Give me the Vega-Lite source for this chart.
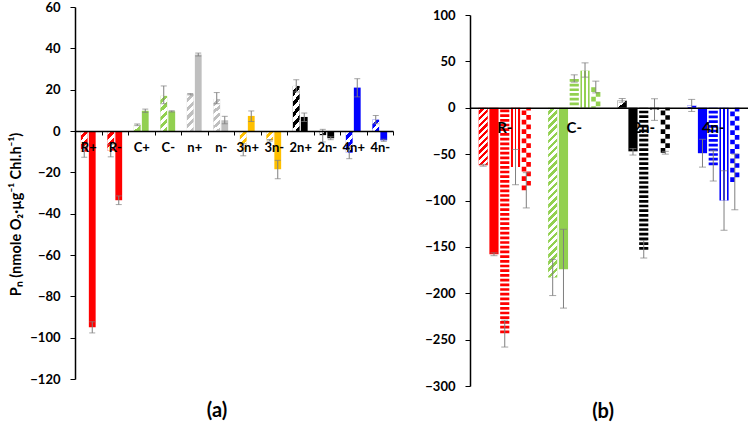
{
  "$schema": "https://vega.github.io/schema/vega-lite/v6.json",
  "background": "white",
  "padding": {"left": 8, "top": 1, "right": 0, "bottom": 0},
  "config": {
    "view": {"stroke": null},
    "font": "Lato",
    "axis": {"labelFont": "Lato", "labelFontWeight": "bold", "labelColor": "#000", "titleFont": "Lato", "titleFontWeight": "bold", "titleColor": "#000", "domainColor": "#000", "tickColor": "#000", "grid": false},
    "title": {"font": "Lato", "fontWeight": "bold", "color": "#000"}
  },
  "datasets": {
    "a": [
      {"g": "R+", "c": "R", "p": "h", "v": -10, "lo": -12.7, "hi": -7.3},
      {"g": "R+", "c": "R", "p": "s", "v": -95, "lo": -97.7, "hi": -92.3},
      {"g": "R-", "c": "R", "p": "h", "v": -9.5, "lo": -12.5, "hi": -6.5},
      {"g": "R-", "c": "R", "p": "s", "v": -33.5, "lo": -35.6, "hi": -31.4},
      {"g": "C+", "c": "C", "p": "h", "v": 3, "lo": 2.6, "hi": 3.4},
      {"g": "C+", "c": "C", "p": "s", "v": 9.8, "lo": 9.0, "hi": 10.6},
      {"g": "C-", "c": "C", "p": "h", "v": 17, "lo": 13.2, "hi": 21.8},
      {"g": "C-", "c": "C", "p": "s", "v": 9.5, "lo": 9.2, "hi": 9.8},
      {"g": "n+", "c": "n", "p": "h", "v": 17.8, "lo": 17.5, "hi": 18.1},
      {"g": "n+", "c": "n", "p": "s", "v": 37, "lo": 36.3, "hi": 37.7},
      {"g": "n-", "c": "n", "p": "h", "v": 15.5, "lo": 13.2, "hi": 18.6},
      {"g": "n-", "c": "n", "p": "s", "v": 5.2, "lo": 3.5, "hi": 7.1},
      {"g": "3n+", "c": "3n", "p": "h", "v": -9, "lo": -12, "hi": -6.2},
      {"g": "3n+", "c": "3n", "p": "s", "v": 7.3, "lo": 4.6, "hi": 9.7},
      {"g": "3n-", "c": "3n", "p": "h", "v": -4.5, "lo": -4.9, "hi": -4.1},
      {"g": "3n-", "c": "3n", "p": "s", "v": -18.5, "lo": -23.1, "hi": -14.2},
      {"g": "2n+", "c": "2n", "p": "h", "v": 21.8, "lo": 18.9, "hi": 24.8},
      {"g": "2n+", "c": "2n", "p": "s", "v": 6.8, "lo": 4.6, "hi": 8.7},
      {"g": "2n-", "c": "2n", "p": "h", "v": -2, "lo": -5.3, "hi": 0.8},
      {"g": "2n-", "c": "2n", "p": "s", "v": -3.5, "lo": -4.2, "hi": -2.8},
      {"g": "4n+", "c": "4n", "p": "h", "v": -10.5, "lo": -13.4, "hi": -7.6},
      {"g": "4n+", "c": "4n", "p": "s", "v": 21, "lo": 16.5, "hi": 25.3},
      {"g": "4n-", "c": "4n", "p": "h", "v": 5.5, "lo": 3.5, "hi": 7.5},
      {"g": "4n-", "c": "4n", "p": "s", "v": -4.5, "lo": -5, "hi": -4}
    ],
    "b": [
      {"g": "R-", "c": "R", "p": "h", "v": -62, "lo": -63, "hi": -61},
      {"g": "R-", "c": "R", "p": "s", "v": -158, "lo": -159.5, "hi": -156.5},
      {"g": "R-", "c": "R", "p": "hs", "v": -243, "lo": -258, "hi": -229},
      {"g": "R-", "c": "R", "p": "vs", "v": -64, "lo": -83, "hi": -45},
      {"g": "R-", "c": "R", "p": "ck", "v": -89, "lo": -108, "hi": -70},
      {"g": "C-", "c": "C", "p": "h", "v": -183, "lo": -202.5, "hi": -163.5},
      {"g": "C-", "c": "C", "p": "s", "v": -174, "lo": -216, "hi": -131},
      {"g": "C-", "c": "C", "p": "hs", "v": 31, "lo": 27.6, "hi": 35.5},
      {"g": "C-", "c": "C", "p": "vs", "v": 40, "lo": 33, "hi": 48.4},
      {"g": "C-", "c": "C", "p": "ck", "v": 22, "lo": 16, "hi": 28.7},
      {"g": "2n-", "c": "2n", "p": "h", "v": 8, "lo": 6, "hi": 10},
      {"g": "2n-", "c": "2n", "p": "s", "v": -47, "lo": -51, "hi": -44},
      {"g": "2n-", "c": "2n", "p": "hs", "v": -153, "lo": -162, "hi": -143},
      {"g": "2n-", "c": "2n", "p": "vs", "v": -2, "lo": -13.6, "hi": 9.7},
      {"g": "2n-", "c": "2n", "p": "ck", "v": -48.5, "lo": -50, "hi": -47},
      {"g": "4n-", "c": "4n", "p": "h", "v": 2.5, "lo": -4, "hi": 9},
      {"g": "4n-", "c": "4n", "p": "s", "v": -49, "lo": -64, "hi": -34},
      {"g": "4n-", "c": "4n", "p": "hs", "v": -62, "lo": -79, "hi": -46},
      {"g": "4n-", "c": "4n", "p": "vs", "v": -100, "lo": -132, "hi": -68},
      {"g": "4n-", "c": "4n", "p": "ck", "v": -80, "lo": -110, "hi": -50}
    ]
  },
  "resolve": {"scale": {"x": "independent", "y": "independent", "xOffset": "independent"}},
  "spacing": 30,
  "hconcat": [
    {
      "width": 318,
      "height": 372,
      "data": {"name": "a"},
      "title": {"text": "(a)", "orient": "bottom", "fontSize": 20, "frame": "group", "dx": -17, "offset": 15},
      "encoding": {
        "x": {"field": "g", "type": "nominal", "sort": ["R+", "R-", "C+", "C-", "n+", "n-", "3n+", "3n-", "2n+", "2n-", "4n+", "4n-"], "scale": {"paddingInner": 0, "paddingOuter": 0},
          "axis": {"title": null, "orient": "bottom", "offset": -248, "zindex": 1, "domainWidth": 1.5, "tickSize": 4, "tickWidth": 1, "tickBand": "extent", "labelAngle": 0, "labelFontSize": 13, "labelPadding": 6}},
        "xOffset": {"field": "p", "type": "nominal", "sort": ["h", "s"], "scale": {"domain": ["h", "s"], "paddingInner": 0.15, "paddingOuter": 0.73}},
        "y": {"field": "v", "type": "quantitative", "scale": {"domain": [-120, 60], "nice": false},
          "axis": {"title": "Pₙ (nmole O₂·µg⁻¹ Chl.h⁻¹)", "values": [-120, -100, -80, -60, -40, -20, 0, 20, 40, 60], "domainWidth": 1.5, "tickSize": 5, "labelFontSize": 13, "labelPadding": 10, "titleFontSize": 14.5, "titlePadding": 6, "titleY": 207}}
      },
      "layer": [
        {"mark": {"type": "bar"}, "encoding": {"color": {"field": "c", "type": "nominal", "scale": {"domain": ["R", "C", "n", "3n", "2n", "4n"], "range": ["#FF0000", "#92D050", "#BFBFBF", "#FFC000", "#000000", "#0000FF"]}, "legend": null}}},
        {"transform": [{"filter": {"field": "p", "equal": "h"}}, {"filter": {"field": "g", "oneOf": ["C-", "n+", "n-", "2n+"]}}],
          "mark": {"type": "bar", "fill": {"gradient": "linear", "x1": 0, "y1": 0, "x2": 0.211, "y2": 1.145, "stops": [
            {"offset": 0, "color": "#ffffff"}, {"offset": 0.1, "color": "#ffffff"}, {"offset": 0.1, "color": "rgba(255,255,255,0)"}, {"offset": 0.2, "color": "rgba(255,255,255,0)"},
            {"offset": 0.2, "color": "#ffffff"}, {"offset": 0.3, "color": "#ffffff"}, {"offset": 0.3, "color": "rgba(255,255,255,0)"}, {"offset": 0.4, "color": "rgba(255,255,255,0)"},
            {"offset": 0.4, "color": "#ffffff"}, {"offset": 0.5, "color": "#ffffff"}, {"offset": 0.5, "color": "rgba(255,255,255,0)"}, {"offset": 0.6, "color": "rgba(255,255,255,0)"},
            {"offset": 0.6, "color": "#ffffff"}, {"offset": 0.7, "color": "#ffffff"}, {"offset": 0.7, "color": "rgba(255,255,255,0)"}, {"offset": 0.8, "color": "rgba(255,255,255,0)"},
            {"offset": 0.8, "color": "#ffffff"}, {"offset": 0.9, "color": "#ffffff"}, {"offset": 0.9, "color": "rgba(255,255,255,0)"}, {"offset": 1, "color": "rgba(255,255,255,0)"}]}}},
        {"transform": [{"filter": {"field": "p", "equal": "h"}}, {"filter": {"field": "g", "oneOf": ["R+", "R-", "3n+", "4n+"]}}],
          "mark": {"type": "bar", "fill": {"gradient": "linear", "x1": 0, "y1": 0, "x2": 0.408, "y2": 1.201, "stops": [
            {"offset": 0, "color": "#ffffff"}, {"offset": 0.1667, "color": "#ffffff"}, {"offset": 0.1667, "color": "rgba(255,255,255,0)"}, {"offset": 0.3333, "color": "rgba(255,255,255,0)"},
            {"offset": 0.3333, "color": "#ffffff"}, {"offset": 0.5, "color": "#ffffff"}, {"offset": 0.5, "color": "rgba(255,255,255,0)"}, {"offset": 0.6667, "color": "rgba(255,255,255,0)"},
            {"offset": 0.6667, "color": "#ffffff"}, {"offset": 0.8333, "color": "#ffffff"}, {"offset": 0.8333, "color": "rgba(255,255,255,0)"}, {"offset": 1, "color": "rgba(255,255,255,0)"}]}}},
        {"transform": [{"filter": {"field": "p", "equal": "h"}}, {"filter": {"field": "g", "oneOf": ["3n-", "4n-"]}}],
          "mark": {"type": "bar", "fill": {"gradient": "linear", "x1": 0, "y1": 0, "x2": 0.763, "y2": 1.156, "stops": [
            {"offset": 0, "color": "#ffffff"}, {"offset": 0.25, "color": "#ffffff"}, {"offset": 0.25, "color": "rgba(255,255,255,0)"}, {"offset": 0.5, "color": "rgba(255,255,255,0)"},
            {"offset": 0.5, "color": "#ffffff"}, {"offset": 0.75, "color": "#ffffff"}, {"offset": 0.75, "color": "rgba(255,255,255,0)"}, {"offset": 1, "color": "rgba(255,255,255,0)"}]}}},
        {"transform": [{"filter": {"field": "p", "equal": "h"}}, {"filter": {"field": "g", "oneOf": ["C+", "2n-"]}}],
          "mark": {"type": "bar", "fill": {"gradient": "linear", "x1": 0, "y1": 0, "x2": 1, "y2": 1, "stops": [
            {"offset": 0, "color": "#ffffff"}, {"offset": 0.5, "color": "#ffffff"}, {"offset": 0.5, "color": "rgba(255,255,255,0)"}, {"offset": 1, "color": "rgba(255,255,255,0)"}]}}},
        {"mark": {"type": "rule", "color": "#7F7F7F", "strokeWidth": 1}, "encoding": {"y": {"field": "lo", "type": "quantitative"}, "y2": {"field": "hi"}}},
        {"mark": {"type": "tick", "color": "#7F7F7F", "thickness": 1}, "encoding": {"y": {"field": "lo", "type": "quantitative"}, "size": {"value": 6}}},
        {"mark": {"type": "tick", "color": "#7F7F7F", "thickness": 1}, "encoding": {"y": {"field": "hi", "type": "quantitative"}, "size": {"value": 6}}}
      ]
    },
    {
      "vconcat": [
        {"width": 278, "height": 2, "data": {"values": []}, "mark": "point"},
        {
          "width": 278,
          "height": 371,
          "data": {"name": "b"},
          "title": {"text": "(b)", "orient": "bottom", "fontSize": 20, "frame": "group", "dx": -6, "offset": 9},
          "encoding": {
            "x": {"field": "g", "type": "nominal", "sort": ["R-", "C-", "2n-", "4n-"], "scale": {"paddingInner": 0, "paddingOuter": 0},
              "axis": {"title": null, "orient": "bottom", "offset": -278.25, "zindex": 1, "domainWidth": 1.5, "ticks": false, "labelAngle": 0, "labelFontSize": 15, "labelPadding": 13}},
            "y": {"field": "v", "type": "quantitative", "scale": {"domain": [-300, 100], "nice": false},
              "axis": {"title": null, "values": [-300, -250, -200, -150, -100, -50, 0, 50, 100], "domainWidth": 1.5, "tickSize": 5, "labelFontSize": 13, "labelPadding": 10}}
          },
          "layer": [
            {"transform": [{"filter": {"field": "p", "oneOf": ["h", "s", "vs"]}}],
              "mark": {"type": "bar"},
              "encoding": {"xOffset": {"field": "p", "type": "nominal", "scale": {"domain": ["h", "s", "hs", "vs", "ck"], "paddingInner": 0.15, "paddingOuter": 0.8}},
                "color": {"field": "c", "type": "nominal", "scale": {"domain": ["R", "C", "n", "3n", "2n", "4n"], "range": ["#FF0000", "#92D050", "#BFBFBF", "#FFC000", "#000000", "#0000FF"]}, "legend": null}}},
            {"transform": [{"filter": {"field": "p", "equal": "h"}}, {"filter": {"field": "g", "equal": "R-"}}],
              "mark": {"type": "bar", "fill": {"gradient": "linear", "x1": 0, "y1": 0, "x2": 0.18, "y2": 1.13, "stops": [
                {"offset": 0, "color": "#ffffff"}, {"offset": 0.05, "color": "#ffffff"}, {"offset": 0.05, "color": "rgba(255,255,255,0)"}, {"offset": 0.1, "color": "rgba(255,255,255,0)"},
                {"offset": 0.1, "color": "#ffffff"}, {"offset": 0.15, "color": "#ffffff"}, {"offset": 0.15, "color": "rgba(255,255,255,0)"}, {"offset": 0.2, "color": "rgba(255,255,255,0)"},
                {"offset": 0.2, "color": "#ffffff"}, {"offset": 0.25, "color": "#ffffff"}, {"offset": 0.25, "color": "rgba(255,255,255,0)"}, {"offset": 0.3, "color": "rgba(255,255,255,0)"},
                {"offset": 0.3, "color": "#ffffff"}, {"offset": 0.35, "color": "#ffffff"}, {"offset": 0.35, "color": "rgba(255,255,255,0)"}, {"offset": 0.4, "color": "rgba(255,255,255,0)"},
                {"offset": 0.4, "color": "#ffffff"}, {"offset": 0.45, "color": "#ffffff"}, {"offset": 0.45, "color": "rgba(255,255,255,0)"}, {"offset": 0.5, "color": "rgba(255,255,255,0)"},
                {"offset": 0.5, "color": "#ffffff"}, {"offset": 0.55, "color": "#ffffff"}, {"offset": 0.55, "color": "rgba(255,255,255,0)"}, {"offset": 0.6, "color": "rgba(255,255,255,0)"},
                {"offset": 0.6, "color": "#ffffff"}, {"offset": 0.65, "color": "#ffffff"}, {"offset": 0.65, "color": "rgba(255,255,255,0)"}, {"offset": 0.7, "color": "rgba(255,255,255,0)"},
                {"offset": 0.7, "color": "#ffffff"}, {"offset": 0.75, "color": "#ffffff"}, {"offset": 0.75, "color": "rgba(255,255,255,0)"}, {"offset": 0.8, "color": "rgba(255,255,255,0)"},
                {"offset": 0.8, "color": "#ffffff"}, {"offset": 0.85, "color": "#ffffff"}, {"offset": 0.85, "color": "rgba(255,255,255,0)"}, {"offset": 0.9, "color": "rgba(255,255,255,0)"},
                {"offset": 0.9, "color": "#ffffff"}, {"offset": 0.95, "color": "#ffffff"}, {"offset": 0.95, "color": "rgba(255,255,255,0)"}, {"offset": 1, "color": "rgba(255,255,255,0)"}]}},
              "encoding": {"xOffset": {"field": "p", "type": "nominal", "scale": {"domain": ["h", "s", "hs", "vs", "ck"], "paddingInner": 0.15, "paddingOuter": 0.8}}}},
            {"transform": [{"filter": {"field": "p", "equal": "h"}}, {"filter": {"field": "g", "equal": "C-"}}],
              "mark": {"type": "bar", "fill": {"gradient": "linear", "x1": 0, "y1": 0, "x2": 0.0566, "y2": 1.0508, "stops": [
                {"offset": 0, "color": "#ffffff"}, {"offset": 0.02, "color": "#ffffff"}, {"offset": 0.02, "color": "rgba(255,255,255,0)"}, {"offset": 0.04, "color": "rgba(255,255,255,0)"},
                {"offset": 0.04, "color": "#ffffff"}, {"offset": 0.06, "color": "#ffffff"}, {"offset": 0.06, "color": "rgba(255,255,255,0)"}, {"offset": 0.08, "color": "rgba(255,255,255,0)"},
                {"offset": 0.08, "color": "#ffffff"}, {"offset": 0.1, "color": "#ffffff"}, {"offset": 0.1, "color": "rgba(255,255,255,0)"}, {"offset": 0.12, "color": "rgba(255,255,255,0)"},
                {"offset": 0.12, "color": "#ffffff"}, {"offset": 0.14, "color": "#ffffff"}, {"offset": 0.14, "color": "rgba(255,255,255,0)"}, {"offset": 0.16, "color": "rgba(255,255,255,0)"},
                {"offset": 0.16, "color": "#ffffff"}, {"offset": 0.18, "color": "#ffffff"}, {"offset": 0.18, "color": "rgba(255,255,255,0)"}, {"offset": 0.2, "color": "rgba(255,255,255,0)"},
                {"offset": 0.2, "color": "#ffffff"}, {"offset": 0.22, "color": "#ffffff"}, {"offset": 0.22, "color": "rgba(255,255,255,0)"}, {"offset": 0.24, "color": "rgba(255,255,255,0)"},
                {"offset": 0.24, "color": "#ffffff"}, {"offset": 0.26, "color": "#ffffff"}, {"offset": 0.26, "color": "rgba(255,255,255,0)"}, {"offset": 0.28, "color": "rgba(255,255,255,0)"},
                {"offset": 0.28, "color": "#ffffff"}, {"offset": 0.3, "color": "#ffffff"}, {"offset": 0.3, "color": "rgba(255,255,255,0)"}, {"offset": 0.32, "color": "rgba(255,255,255,0)"},
                {"offset": 0.32, "color": "#ffffff"}, {"offset": 0.34, "color": "#ffffff"}, {"offset": 0.34, "color": "rgba(255,255,255,0)"}, {"offset": 0.36, "color": "rgba(255,255,255,0)"},
                {"offset": 0.36, "color": "#ffffff"}, {"offset": 0.38, "color": "#ffffff"}, {"offset": 0.38, "color": "rgba(255,255,255,0)"}, {"offset": 0.4, "color": "rgba(255,255,255,0)"},
                {"offset": 0.4, "color": "#ffffff"}, {"offset": 0.42, "color": "#ffffff"}, {"offset": 0.42, "color": "rgba(255,255,255,0)"}, {"offset": 0.44, "color": "rgba(255,255,255,0)"},
                {"offset": 0.44, "color": "#ffffff"}, {"offset": 0.46, "color": "#ffffff"}, {"offset": 0.46, "color": "rgba(255,255,255,0)"}, {"offset": 0.48, "color": "rgba(255,255,255,0)"},
                {"offset": 0.48, "color": "#ffffff"}, {"offset": 0.5, "color": "#ffffff"}, {"offset": 0.5, "color": "rgba(255,255,255,0)"}, {"offset": 0.52, "color": "rgba(255,255,255,0)"},
                {"offset": 0.52, "color": "#ffffff"}, {"offset": 0.54, "color": "#ffffff"}, {"offset": 0.54, "color": "rgba(255,255,255,0)"}, {"offset": 0.56, "color": "rgba(255,255,255,0)"},
                {"offset": 0.56, "color": "#ffffff"}, {"offset": 0.58, "color": "#ffffff"}, {"offset": 0.58, "color": "rgba(255,255,255,0)"}, {"offset": 0.6, "color": "rgba(255,255,255,0)"},
                {"offset": 0.6, "color": "#ffffff"}, {"offset": 0.62, "color": "#ffffff"}, {"offset": 0.62, "color": "rgba(255,255,255,0)"}, {"offset": 0.64, "color": "rgba(255,255,255,0)"},
                {"offset": 0.64, "color": "#ffffff"}, {"offset": 0.66, "color": "#ffffff"}, {"offset": 0.66, "color": "rgba(255,255,255,0)"}, {"offset": 0.68, "color": "rgba(255,255,255,0)"},
                {"offset": 0.68, "color": "#ffffff"}, {"offset": 0.7, "color": "#ffffff"}, {"offset": 0.7, "color": "rgba(255,255,255,0)"}, {"offset": 0.72, "color": "rgba(255,255,255,0)"},
                {"offset": 0.72, "color": "#ffffff"}, {"offset": 0.74, "color": "#ffffff"}, {"offset": 0.74, "color": "rgba(255,255,255,0)"}, {"offset": 0.76, "color": "rgba(255,255,255,0)"},
                {"offset": 0.76, "color": "#ffffff"}, {"offset": 0.78, "color": "#ffffff"}, {"offset": 0.78, "color": "rgba(255,255,255,0)"}, {"offset": 0.8, "color": "rgba(255,255,255,0)"},
                {"offset": 0.8, "color": "#ffffff"}, {"offset": 0.82, "color": "#ffffff"}, {"offset": 0.82, "color": "rgba(255,255,255,0)"}, {"offset": 0.84, "color": "rgba(255,255,255,0)"},
                {"offset": 0.84, "color": "#ffffff"}, {"offset": 0.86, "color": "#ffffff"}, {"offset": 0.86, "color": "rgba(255,255,255,0)"}, {"offset": 0.88, "color": "rgba(255,255,255,0)"},
                {"offset": 0.88, "color": "#ffffff"}, {"offset": 0.9, "color": "#ffffff"}, {"offset": 0.9, "color": "rgba(255,255,255,0)"}, {"offset": 0.92, "color": "rgba(255,255,255,0)"},
                {"offset": 0.92, "color": "#ffffff"}, {"offset": 0.94, "color": "#ffffff"}, {"offset": 0.94, "color": "rgba(255,255,255,0)"}, {"offset": 0.96, "color": "rgba(255,255,255,0)"},
                {"offset": 0.96, "color": "#ffffff"}, {"offset": 0.98, "color": "#ffffff"}, {"offset": 0.98, "color": "rgba(255,255,255,0)"}, {"offset": 1, "color": "rgba(255,255,255,0)"}]}},
              "encoding": {"xOffset": {"field": "p", "type": "nominal", "scale": {"domain": ["h", "s", "hs", "vs", "ck"], "paddingInner": 0.15, "paddingOuter": 0.8}}}},
            {"transform": [{"filter": {"field": "p", "equal": "h"}}, {"filter": {"field": "g", "oneOf": ["2n-", "4n-"]}}],
              "mark": {"type": "bar", "fill": {"gradient": "linear", "x1": 0, "y1": 0, "x2": 1, "y2": 1, "stops": [
                {"offset": 0, "color": "#ffffff"}, {"offset": 0.5, "color": "#ffffff"}, {"offset": 0.5, "color": "rgba(255,255,255,0)"}, {"offset": 1, "color": "rgba(255,255,255,0)"}]}},
              "encoding": {"xOffset": {"field": "p", "type": "nominal", "scale": {"domain": ["h", "s", "hs", "vs", "ck"], "paddingInner": 0.15, "paddingOuter": 0.8}}}},
            {"transform": [{"filter": {"field": "p", "equal": "vs"}}],
              "mark": {"type": "bar", "fill": {"gradient": "linear", "x1": 0, "y1": 0, "x2": 1, "y2": 0, "stops": [
                {"offset": 0, "color": "rgba(255,255,255,0)"}, {"offset": 0.2, "color": "rgba(255,255,255,0)"}, {"offset": 0.2, "color": "#ffffff"}, {"offset": 0.4, "color": "#ffffff"},
                {"offset": 0.4, "color": "rgba(255,255,255,0)"}, {"offset": 0.6, "color": "rgba(255,255,255,0)"}, {"offset": 0.6, "color": "#ffffff"}, {"offset": 0.8, "color": "#ffffff"},
                {"offset": 0.8, "color": "rgba(255,255,255,0)"}, {"offset": 1, "color": "rgba(255,255,255,0)"}]}},
              "encoding": {"xOffset": {"field": "p", "type": "nominal", "scale": {"domain": ["h", "s", "hs", "vs", "ck"], "paddingInner": 0.15, "paddingOuter": 0.8}}}},
            {"transform": [{"filter": {"field": "p", "equal": "hs"}}],
              "mark": {"type": "rule", "strokeWidth": 9.16, "strokeDash": [2.7, 2.0]},
              "encoding": {"xOffset": {"field": "p", "type": "nominal", "scale": {"domain": ["h", "s", "hs", "vs", "ck"], "paddingInner": 0.15, "paddingOuter": 0.8}},
                "y2": {"datum": 0},
                "color": {"field": "c", "type": "nominal", "scale": {"domain": ["R", "C", "n", "3n", "2n", "4n"], "range": ["#FF0000", "#92D050", "#BFBFBF", "#FFC000", "#000000", "#0000FF"]}, "legend": null}}},
            {"transform": [{"filter": {"field": "p", "equal": "ck"}}],
              "mark": {"type": "rule", "strokeWidth": 4.58, "strokeDash": [4.7, 4.7], "xOffset": 19.26},
              "encoding": {"y2": {"datum": 0},
                "color": {"field": "c", "type": "nominal", "scale": {"domain": ["R", "C", "n", "3n", "2n", "4n"], "range": ["#FF0000", "#92D050", "#BFBFBF", "#FFC000", "#000000", "#0000FF"]}, "legend": null}}},
            {"transform": [{"filter": {"field": "p", "equal": "ck"}}],
              "mark": {"type": "rule", "strokeWidth": 4.58, "strokeDash": [4.7, 4.7], "strokeDashOffset": 4.7, "xOffset": 23.84},
              "encoding": {"y2": {"datum": 0},
                "color": {"field": "c", "type": "nominal", "scale": {"domain": ["R", "C", "n", "3n", "2n", "4n"], "range": ["#FF0000", "#92D050", "#BFBFBF", "#FFC000", "#000000", "#0000FF"]}, "legend": null}}},
            {"mark": {"type": "rule", "color": "#7F7F7F", "strokeWidth": 1},
              "encoding": {"xOffset": {"field": "p", "type": "nominal", "scale": {"domain": ["h", "s", "hs", "vs", "ck"], "paddingInner": 0.15, "paddingOuter": 0.8}},
                "y": {"field": "lo", "type": "quantitative"}, "y2": {"field": "hi"}}},
            {"mark": {"type": "tick", "color": "#7F7F7F", "thickness": 1},
              "encoding": {"xOffset": {"field": "p", "type": "nominal", "scale": {"domain": ["h", "s", "hs", "vs", "ck"], "paddingInner": 0.15, "paddingOuter": 0.8}},
                "y": {"field": "lo", "type": "quantitative"}, "size": {"value": 7}}},
            {"mark": {"type": "tick", "color": "#7F7F7F", "thickness": 1},
              "encoding": {"xOffset": {"field": "p", "type": "nominal", "scale": {"domain": ["h", "s", "hs", "vs", "ck"], "paddingInner": 0.15, "paddingOuter": 0.8}},
                "y": {"field": "hi", "type": "quantitative"}, "size": {"value": 7}}}
          ]
        }
      ],
      "spacing": 0
    }
  ]
}
